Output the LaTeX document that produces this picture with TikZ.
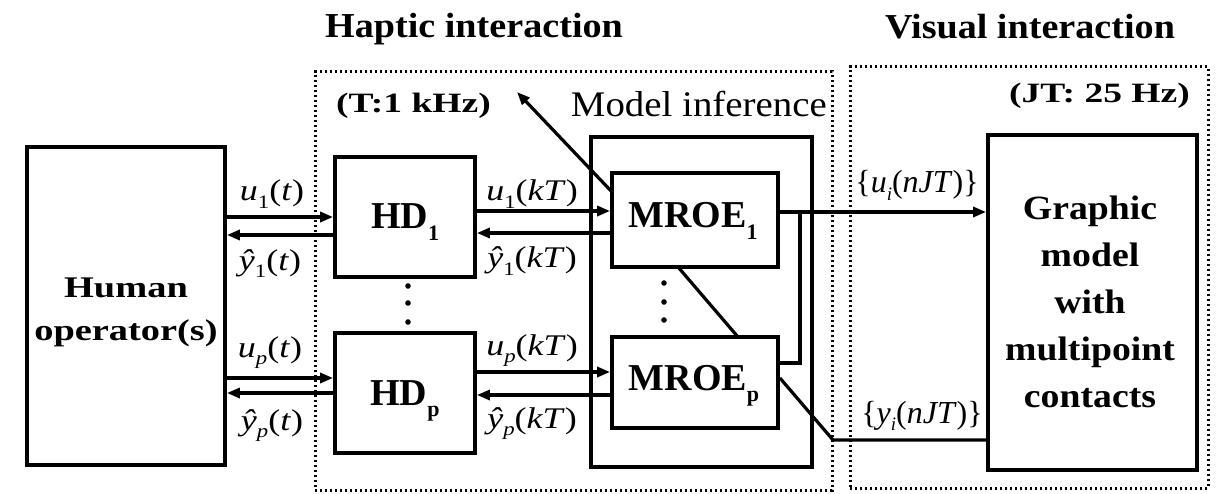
\documentclass[tikz,border=0pt]{standalone}
\usepackage{fontspec}
\setmainfont{Liberation Serif}
\usepackage{graphicx}
\usetikzlibrary{arrows.meta}

% font size helper and small lowered subscripts
\newcommand{\sz}[2]{\fontsize{#1}{#2}\selectfont}
\newcommand{\lsub}[1]{\raisebox{-0.24em}{\sz{19}{19}#1}}
\newcommand{\bsub}[1]{\raisebox{-0.3em}{\sz{22}{22}\bfseries #1}}

\tikzset{
  blk/.style={draw, line width=3.8pt, inner sep=0pt},
  zone/.style={draw, line width=3pt, dash pattern=on 2.4pt off 2.6pt, inner sep=0pt},
  wire/.style={line width=3.2pt},
  arr/.style={wire, -{Triangle[length=13pt,width=10pt]}},
  lbl/.style={anchor=base, inner sep=0pt, font=\sz{30}{36}},
  sig/.style={anchor=base, inner sep=0pt, font=\sz{32}{38}},
  head/.style={anchor=base, inner sep=0pt, font=\sz{35}{42}\bfseries},
  rate/.style={anchor=base, inner sep=0pt, font=\sz{28}{34}\bfseries},
  btxt/.style={inner sep=0pt, font=\sz{38}{46}\bfseries},
}

\begin{document}
\begin{tikzpicture}[x=1pt, y=-1pt]
\useasboundingbox (0,0) rectangle (1225,494);

% interaction zones
\node[zone, minimum width=517pt, minimum height=418pt] (haptic) at (573.5,281) {};
\node[zone, minimum width=358pt, minimum height=421pt] (visual) at (1029,277.5) {};

% blocks
\node[blk, minimum width=198pt, minimum height=318pt] (human) at (126,306) {};
\node[blk, minimum width=140pt, minimum height=120pt] (hd1) at (405,217) {};
\node[blk, minimum width=140pt, minimum height=120pt] (hdp) at (405,393) {};
\node[blk, minimum width=221pt, minimum height=330pt] (model) at (701.5,302) {};
\node[blk, minimum width=166pt, minimum height=94pt] (m1) at (695,220) {};
\node[blk, minimum width=166pt, minimum height=91pt] (mp) at (695,382.5) {};
\node[blk, minimum width=209pt, minimum height=335pt] (graph) at (1092.5,302.5) {};

% block texts
\node[btxt, font=\sz{30}{43}\bfseries] (humantxt) at (126,310)
  {\scalebox{1.28}[1]{\begin{tabular}{@{}c@{}}Human\\operator(s)\end{tabular}}};
\node[btxt, anchor=base] (hd1txt) at (405,229) {HD\bsub{1}};
\node[btxt, anchor=base] (hdptxt) at (405,405) {HD\bsub{p}};
\node[btxt, anchor=base] (m1txt) at (693,228) {MROE\bsub{1}};
\node[btxt, anchor=base] (mptxt) at (694,390) {MROE\bsub{p}};
\node[btxt, font=\sz{34}{47}\bfseries] (graphtxt) at (1090,304)
  {\scalebox{1.11}[1]{\begin{tabular}{@{}c@{}}Graphic\\model\\with\\multipoint\\contacts\end{tabular}}};

% headings and rates
\node[head] (hhead) at (474,38) {\scalebox{1.09}[1]{Haptic interaction}};
\node[head] (vhead) at (1030,39) {\scalebox{1.09}[1]{Visual interaction}};
\node[rate] (trate) at (413.5,113) {\scalebox{1.34}[1]{(T:1 kHz)}};
\node[rate, anchor=base east] (jrate) at (1190,103) {\scalebox{1.34}[1]{(JT: 25 Hz)}};
\node[anchor=base east, inner sep=0pt, font=\sz{36}{42}] (mtitle) at (827,117)
  {\scalebox{1.08}[1]{Model inference}};

% signal levels
\coordinate (ya1) at (0,217);
\coordinate (yb1) at (0,235);
\coordinate (yap) at (0,378);
\coordinate (ybp) at (0,393);
\coordinate (yc1) at (0,211);
\coordinate (yd1) at (0,233);
\coordinate (ycp) at (0,372);
\coordinate (ydp) at (0,395);
\coordinate (yo) at (0,212);
\coordinate (yj) at (0,363);
\coordinate (yq) at (0,378);
\coordinate (yr) at (0,440);
\coordinate (jn) at (800,212);
\coordinate (bend) at (833,440);
\coordinate (ptr) at (517,92);
\coordinate (m1src) at (612,192);
\coordinate (m1bot) at (678,267);
\coordinate (mptop) at (738,337);

% operator <-> haptic devices
\draw[arr] (human.east |- ya1) -- (hd1.west |- ya1);
\draw[arr] (hd1.west |- yb1) -- (human.east |- yb1);
\draw[arr] (human.east |- yap) -- (hdp.west |- yap);
\draw[arr] (hdp.west |- ybp) -- (human.east |- ybp);

% haptic devices <-> estimators
\draw[arr] (hd1.east |- yc1) -- (m1.west |- yc1);
\draw[arr] (m1.west |- yd1) -- (hd1.east |- yd1);
\draw[arr] (hdp.east |- ycp) -- (mp.west |- ycp);
\draw[arr] (mp.west |- ydp) -- (hdp.east |- ydp);

% estimators -> graphic model
\draw[arr] (m1.east |- yo) -- (graph.west |- yo);
\draw[wire] (jn) -- (jn |- yj) -- (mp.east |- yj);
\draw[wire] (mp.east |- yq) -- (bend) -- (graph.west |- yr);

% diagonal links
\draw[arr] (m1src) -- (ptr);
\draw[wire] (m1bot) -- (mptop);

% ellipsis dots
\foreach \yy in {286,303,322} \fill (408,\yy) circle (2.8pt);
\foreach \yy in {283,302,320} \fill (664,\yy) circle (2.8pt);

% signal labels
\node[lbl] (lu1t) at (272,201) {\scalebox{1.2}[1]{\textit{u}\lsub{1}(\textit{t})}};
\node[lbl] (ly1t) at (270,270) {\scalebox{1.2}[1]{\textit{\^y}\lsub{1}(\textit{t})}};
\node[lbl] (lupt) at (270,357) {\scalebox{1.2}[1]{\textit{u}\lsub{\textit{p}}(\textit{t})}};
\node[lbl] (lypt) at (272,430) {\scalebox{1.2}[1]{\textit{\^y}\lsub{\textit{p}}(\textit{t})}};
\node[lbl] (lu1k) at (532,201) {\scalebox{1.2}[1]{\textit{u}\lsub{1}(\textit{kT})}};
\node[lbl] (ly1k) at (532,268) {\scalebox{1.2}[1]{\textit{\^y}\lsub{1}(\textit{kT})}};
\node[lbl] (lupk) at (532,355) {\scalebox{1.2}[1]{\textit{u}\lsub{\textit{p}}(\textit{kT})}};
\node[lbl] (lypk) at (532,428) {\scalebox{1.2}[1]{\textit{\^y}\lsub{\textit{p}}(\textit{kT})}};
\node[sig] (lun) at (917,193) {\{\textit{u}\lsub{\textit{i}}(\textit{nJT})\}};
\node[sig] (lyn) at (922,423) {\{\textit{y}\lsub{\textit{i}}(\textit{nJT})\}};
\end{tikzpicture}
\end{document}
